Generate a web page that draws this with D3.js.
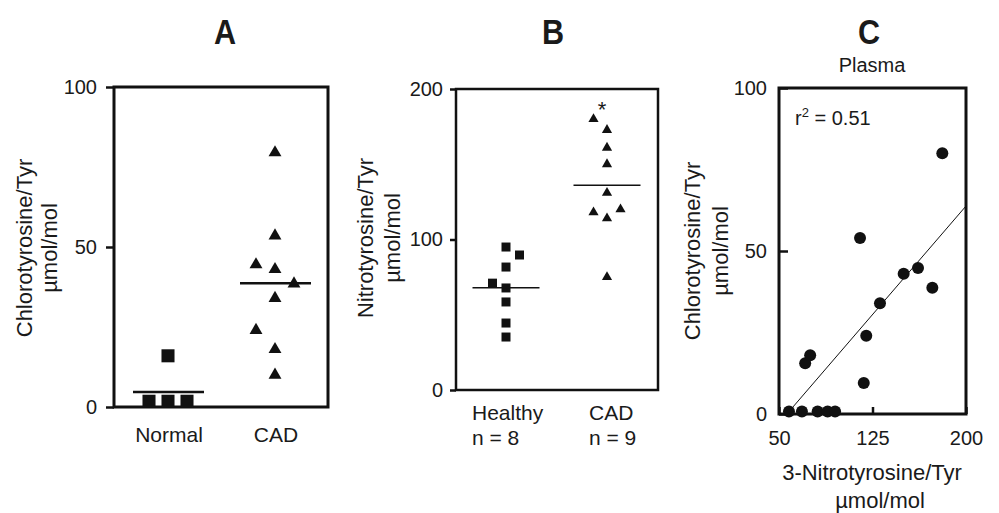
<!DOCTYPE html>
<html>
<head>
<meta charset="utf-8">
<script src="https://cdn.jsdelivr.net/npm/d3@7"></script>
<style>
  body { margin: 0; background: #fff; }
  svg { font-family: "Liberation Sans", Arial, sans-serif; }
  text { fill: #1a1a1a; }
</style>
</head>
<body>
<svg id="chart" width="999" height="513"></svg>
<script>
// Panel A: chlorotyrosine, Normal vs CAD
const aCategories = ["Normal", "CAD"];
const aNormal = [1.8, 16, 1.8, 1.8];
const aNormalCol = [-1, 0, 0, 1];
const aCad = [79.5, 53.5, 44.5, 43, 38.5, 34, 24, 18, 10];
const aCadCol = [0, 0, -1, 0, 1, 0, -1, 0, 0];
const aMeans = [4.7, 38.7];
const aTicks = [0, 50, 100];

// Panel B: nitrotyrosine, Healthy vs CAD
const bCategories = ["Healthy", "CAD"];
const bCounts = ["n = 8", "n = 9"];
const bHealthy = [95, 89.7, 81.7, 71, 67.8, 58.5, 44.5, 35.2];
const bHealthyCol = [0, 1, 0, -1, 0, 0, 0, 0];
const bCad = [180, 172.8, 161, 150, 131, 118, 120, 114, 75];
const bCadCol = [-1, 0, 0, 0, 0, -1, 1, 0, 0];
const bMeans = [68, 136];
const bTicks = [0, 100, 200];

// Panel C: correlation in plasma
const cNitro = [58, 68.4, 81, 89, 95, 71, 75, 115, 118, 120, 131, 150, 161.5, 173, 181];
const cChloro = [0.8, 0.8, 0.8, 0.8, 0.8, 15.6, 18, 54, 9.5, 24, 34, 43, 44.8, 38.7, 80];
const cFit = [[60.4, 1.8], [200, 63.8]];
const cXTicks = [50, 125, 200];
const cYTicks = [0, 50, 100];

const svg = d3.select("#chart");
const ink = "#111";

function styleAxis(g, size) {
  g.select(".domain").remove();
  g.selectAll("line").attr("stroke", ink).attr("stroke-width", 2.5);
  g.selectAll("text").attr("font-size", size).attr("fill", "#1a1a1a")
    .attr("font-family", '"Liberation Sans", Arial, sans-serif');
}

function frame(x0, x1, y0, y1, w) {
  svg.append("rect").attr("x", x0).attr("y", y0)
    .attr("width", x1 - x0).attr("height", y1 - y0)
    .attr("fill", "none").attr("stroke", ink).attr("stroke-width", w);
}

function yTitle(x1, x2, cy, line1) {
  svg.append("text").attr("transform", `translate(${x1},${cy}) rotate(-90)`)
    .attr("text-anchor", "middle").attr("font-size", 22).text(line1);
  svg.append("text").attr("transform", `translate(${x2},${cy}) rotate(-90)`)
    .attr("text-anchor", "middle").attr("font-size", 22).text("µmol/mol");
}

// panel letters (condensed bold look)
const letters = [["A", 225], ["B", 553], ["C", 869]];
svg.selectAll(".letter").data(letters).enter().append("text")
  .attr("transform", d => `translate(${d[1]},44) scale(0.85,1)`)
  .attr("text-anchor", "middle").attr("font-size", 36).attr("font-weight", "bold")
  .text(d => d[0]);

// ---------- Panel A ----------
const yA = d3.scaleLinear().domain([0, 100]).range([407, 87]);
const xA = d3.scalePoint().domain(aCategories).range([168, 275]);
const jitA = 19;

frame(114, 328, 87, 407, 3);
svg.append("g").attr("transform", "translate(114,0)")
  .call(d3.axisLeft(yA).tickValues(aTicks).tickSize(8).tickPadding(9))
  .call(g => styleAxis(g, 20));

svg.selectAll(".aNorm").data(aNormal).enter().append("path")
  .attr("d", d3.symbol().type(d3.symbolSquare).size(170))
  .attr("transform", (d, i) => `translate(${xA("Normal") + aNormalCol[i] * jitA},${yA(d)})`)
  .attr("fill", ink);

svg.selectAll(".aCad").data(aCad).enter().append("path")
  .attr("d", d3.symbol().type(d3.symbolTriangle).size(72))
  .attr("transform", (d, i) => `translate(${xA("CAD") + aCadCol[i] * jitA},${yA(d)})`)
  .attr("fill", ink);

svg.selectAll(".aMean").data(aMeans).enter().append("line")
  .attr("x1", (d, i) => xA(aCategories[i]) - 35)
  .attr("x2", (d, i) => xA(aCategories[i]) + 36)
  .attr("y1", d => yA(d)).attr("y2", d => yA(d))
  .attr("stroke", ink).attr("stroke-width", 2.5);

svg.selectAll(".aLab").data(aCategories).enter().append("text")
  .attr("x", d => xA(d) + 1).attr("y", 442)
  .attr("text-anchor", "middle").attr("font-size", 21).text(d => d);

yTitle(32, 57, 248, "Chlorotyrosine/Tyr");

// ---------- Panel B ----------
const yB = d3.scaleLinear().domain([0, 200]).range([390, 89]);
const xB = d3.scalePoint().domain(bCategories).range([506, 607]);
const jitB = 13.5;

frame(456, 658, 89, 390, 2.5);
svg.append("g").attr("transform", "translate(456,0)")
  .call(d3.axisLeft(yB).tickValues(bTicks).tickSize(6).tickPadding(7))
  .call(g => styleAxis(g, 20));

svg.selectAll(".bH").data(bHealthy).enter().append("path")
  .attr("d", d3.symbol().type(d3.symbolSquare).size(81))
  .attr("transform", (d, i) => `translate(${xB("Healthy") + bHealthyCol[i] * jitB},${yB(d)})`)
  .attr("fill", ink);

svg.selectAll(".bC").data(bCad).enter().append("path")
  .attr("d", d3.symbol().type(d3.symbolTriangle).size(45))
  .attr("transform", (d, i) => `translate(${xB("CAD") + bCadCol[i] * jitB},${yB(d)})`)
  .attr("fill", ink);

svg.selectAll(".bMean").data(bMeans).enter().append("line")
  .attr("x1", (d, i) => xB(bCategories[i]) - 33.5)
  .attr("x2", (d, i) => xB(bCategories[i]) + 33.5)
  .attr("y1", d => yB(d)).attr("y2", d => yB(d))
  .attr("stroke", ink).attr("stroke-width", 1.5);

svg.append("text").attr("x", xB("CAD") - 5).attr("y", yB(190) + 13)
  .attr("text-anchor", "middle").attr("font-size", 22).text("*");

svg.selectAll(".bLab").data(bCategories).enter().append("text")
  .attr("x", d => xB(d) - 34 + (d === "CAD" ? 16 : 0)).attr("y", 420)
  .attr("font-size", 21).text(d => d);
svg.selectAll(".bN").data(bCounts).enter().append("text")
  .attr("x", (d, i) => xB(bCategories[i]) - 34 + (i === 1 ? 16 : 0)).attr("y", 445)
  .attr("font-size", 21).text(d => d);

yTitle(373, 400, 238, "Nitrotyrosine/Tyr");

// ---------- Panel C ----------
const xC = d3.scaleLinear().domain([50, 200]).range([779, 966]);
const yC = d3.scaleLinear().domain([0, 100]).range([414, 88]);

svg.append("g").attr("transform", "translate(779,0)")
  .call(d3.axisLeft(yC).tickValues(cYTicks).tickSizeInner(-9).tickSizeOuter(0).tickPadding(12))
  .call(g => styleAxis(g, 20));
svg.append("g").attr("transform", "translate(0,414)")
  .call(d3.axisBottom(xC).tickValues(cXTicks).tickSizeInner(-7).tickSizeOuter(0).tickPadding(17))
  .call(g => styleAxis(g, 20));
frame(779, 966, 88, 414, 3);

svg.append("line")
  .attr("x1", xC(cFit[0][0])).attr("y1", yC(cFit[0][1]))
  .attr("x2", xC(cFit[1][0])).attr("y2", yC(cFit[1][1]))
  .attr("stroke", ink).attr("stroke-width", 1);

svg.selectAll(".cDot").data(cNitro).enter().append("circle")
  .attr("cx", d => xC(d)).attr("cy", (d, i) => yC(cChloro[i]))
  .attr("r", 6).attr("fill", ink);

const r2 = svg.append("text").attr("x", 795).attr("y", 125).attr("font-size", 20);
r2.append("tspan").text("r");
r2.append("tspan").attr("dy", -8).attr("font-size", 13).text("2");
r2.append("tspan").attr("dy", 8).text(" = 0.51");

svg.append("text").attr("x", 872).attr("y", 72).attr("text-anchor", "middle")
  .attr("font-size", 20).text("Plasma");

svg.append("text").attr("x", 872).attr("y", 480).attr("text-anchor", "middle")
  .attr("font-size", 22).text("3-Nitrotyrosine/Tyr");
svg.append("text").attr("x", 880).attr("y", 508).attr("text-anchor", "middle")
  .attr("font-size", 22).text("µmol/mol");

yTitle(700, 728, 251, "Chlorotyrosine/Tyr");
</script>
</body>
</html>
